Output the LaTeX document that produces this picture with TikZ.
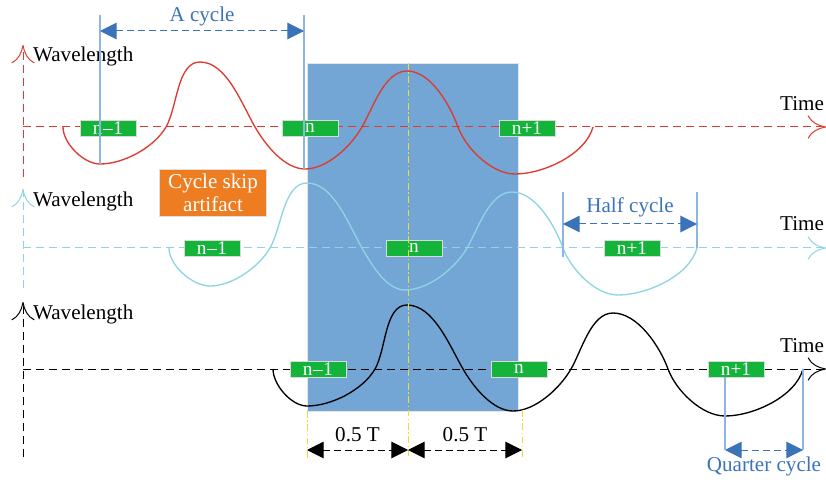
\documentclass[tikz,border=0pt]{standalone}
\usepackage{fontspec}
\setmainfont{Liberation Serif}
\usetikzlibrary{arrows.meta, positioning}
\definecolor{wavered}{HTML}{DC3B2E}
\definecolor{wavecyan}{HTML}{8ED5E3}
\definecolor{markblue}{HTML}{3B73B9}
\definecolor{lineblue}{HTML}{8DB4E2}
\definecolor{boxgreen}{HTML}{14B43B}
\definecolor{skiporange}{HTML}{EE7D22}
\definecolor{windowblue}{HTML}{73A5D5}
\definecolor{guideyellow}{HTML}{F0DC30}

\begin{document}
\begin{tikzpicture}[
    x=0.3mm, y=0.3mm,
    axis/.style={dash pattern=on 2.4mm off 1.5mm, line width=0.3mm, -{Computer Modern Rightarrow[length=5.5mm,width=7mm]}},
    wave/.style={line width=0.4mm, looseness=0.8},
    idx/.style={draw=gray!30, fill=boxgreen, text=white, minimum width=16.8mm, minimum height=4.8mm, inner sep=0pt, font=\fontsize{16.5}{16.5}\selectfont},
    lbl/.style={font=\fontsize{18}{18}\selectfont},
    span/.style={{Triangle[length=5mm,width=5mm]}-{Triangle[length=5mm,width=5mm]}, dash pattern=on 2mm off 1.3mm, line width=0.3mm},
    tick/.style={lineblue, line width=0.35mm},
    guide/.style={guideyellow, line width=0.3mm, dash pattern=on 2mm off 0.8mm on 0.4mm off 0.8mm},
]
\useasboundingbox (0,0) rectangle (826,484);

% sampling window
\node[fill=windowblue, draw=gray!20, minimum width=63.3mm, minimum height=104.4mm, inner sep=0pt, anchor=south west] (win) at (307,73) {};

% axes
\coordinate (o1) at (23,357);
\coordinate (o2) at (23,236);
\coordinate (o3) at (23,115);
\draw[axis, wavered] (23,307) -- (23,439);
\draw[axis, wavered] (o1) -- (826,357);
\draw[axis, wavecyan] (23,196) -- (23,295);
\draw[axis, wavecyan] (o2) -- (826,236);
\draw[axis, black] (23,27) -- (23,182);
\draw[axis, black] (o3) -- (826,115);

\node[lbl, anchor=west] (wl1) at (29,428) {Wavelength};
\node[lbl, anchor=west] (wl2) at (29,283) {Wavelength};
\node[lbl, anchor=west] (wl3) at (29,170) {Wavelength};
\node[lbl] (tm1) at (802,380) {Time};
\node[lbl] (tm2) at (802,260) {Time};
\node[lbl] (tm3) at (802,138) {Time};

% waves
\draw[wave, wavered] (63,357) to[out=-90,in=180] (100,320) to[out=0,in=240] (166,357)
    to[out=60,in=180] (200,422) to[out=0,in=120] (255,357) to[out=-60,in=180] (305,315)
    to[out=0,in=240] (362,357) to[out=60,in=180] (407,413) to[out=0,in=110] (458,357)
    to[out=-70,in=180] (515,310) to[out=0,in=255] (593,357);
\draw[wave, wavecyan] (169,236) to[out=-90,in=180] (210,198) to[out=0,in=240] (270,236)
    to[out=60,in=180] (307,301) to[out=0,in=120] (362,236) to[out=-60,in=180] (405,194)
    to[out=0,in=240] (467,236) to[out=60,in=180] (512,292) to[out=0,in=110] (563,236)
    to[out=-70,in=180] (618,189) to[out=0,in=255] (697,236);
\draw[wave, black] (273,115) to[out=-90,in=180] (307,78) to[out=0,in=240] (375,115)
    to[out=60,in=180] (407,179) to[out=0,in=120] (463,115) to[out=-60,in=180] (513,73)
    to[out=0,in=240] (571,115) to[out=60,in=180] (613,171) to[out=0,in=110] (668,115)
    to[out=-70,in=180] (725,68) to[out=0,in=255] (803,115);

% index boxes
\node[idx] (r1) at (108,356) {n\kern0.5pt--\kern0.5pt1};
\node[idx] (r2) at (310,356) {n};
\node[idx] (r3) at (527,356) {n+1};
\node[idx] (c1) at (212,236) {n\kern0.5pt--\kern0.5pt1};
\node[idx] (c2) at (414,236) {n};
\node[idx] (c3) at (632,236) {n+1};
\node[idx] (b1) at (318,115) {n\kern0.5pt--\kern0.5pt1};
\node[idx] (b2) at (519,115) {n};
\node[idx] (b3) at (736,115) {n+1};

\node[fill=skiporange, draw=gray!25, text=white, minimum width=32mm, minimum height=14mm, align=center, inner sep=0pt, font=\fontsize{18}{20}\selectfont] (skip) at (213,291) {Cycle skip\\artifact};

% guide lines
\draw[guide] (408,421) -- (408,26);
\draw[guide] (307,73) -- (307,26);
\draw[guide] (522,74) -- (522,26);

% half periods
\coordinate (t0) at (307,34);
\coordinate (t1) at (408,34);
\coordinate (t2) at (522,34);
\draw[span] (t0) -- node[lbl, above=1mm] {0.5 T} (t1);
\draw[span] (t1) -- node[lbl, above=1mm] {0.5 T} (t2);

% cycle markers
\draw[tick] (100,469) -- (100,320);
\draw[tick] (304,469) -- (304,315);
\draw[span, markblue] (100,453) -- node[lbl, above=0.2mm] {A cycle} (304,453);

\draw[tick] (563,292) -- (563,227);
\draw[tick] (697,292) -- (697,236);
\draw[span, markblue] (563,260) -- node[lbl, above=0.8mm] {Half cycle} (697,260);

\draw[tick] (725,107) -- (725,34);
\draw[tick] (803,115) -- (803,34);
\draw[span, markblue] (725,34) -- node[lbl, below=0.8mm] {Quarter cycle} (803,34);
\end{tikzpicture}
\end{document}
